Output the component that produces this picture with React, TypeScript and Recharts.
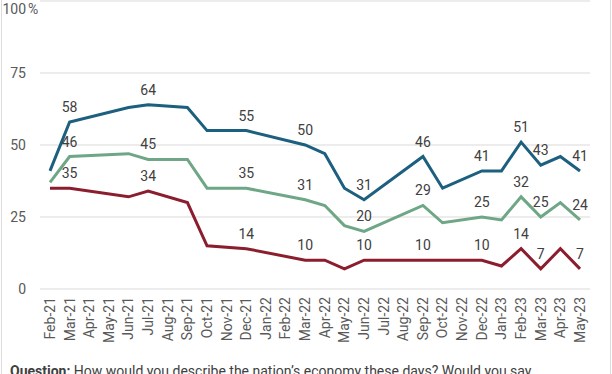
import { LineChart, Line, XAxis, YAxis, CartesianGrid, LabelList } from "recharts";

const months = [
  "Feb-21", "Mar-21", "Apr-21", "May-21", "Jun-21", "Jul-21", "Aug-21", "Sep-21", "Oct-21", "Nov-21",
  "Dec-21", "Jan-22", "Feb-22", "Mar-22", "Apr-22", "May-22", "Jun-22", "Jul-22", "Aug-22", "Sep-22",
  "Oct-22", "Nov-22", "Dec-22", "Jan-23", "Feb-23", "Mar-23", "Apr-23", "May-23",
];

// null = no survey that month
const blueValues = [41, 58, null, null, 63, 64, null, 63, 55, null, 55, null, null, 50, 47, 35, 31, null, null, 46, 35, null, 41, 41, 51, 43, 46, 41];
const greenValues = [37, 46, null, null, 47, 45, null, 45, 35, null, 35, null, null, 31, 29, 22, 20, null, null, 29, 23, null, 25, 24, 32, 25, 30, 24];
const redValues = [35, 35, null, null, 32, 34, null, 30, 15, null, 14, null, null, 10, 10, 7, 10, null, null, 10, 10, null, 10, 8, 14, 7, 14, 7];

const labeledMonths = ["Mar-21", "Jul-21", "Dec-21", "Mar-22", "Jun-22", "Sep-22", "Dec-22", "Feb-23", "Mar-23", "May-23"];
const yTicks = [0, 25, 50, 75, 100];

const data = months.map((month, i) => ({
  month,
  blue: blueValues[i],
  green: greenValues[i],
  red: redValues[i],
}));

const FONT = "Roboto, 'Noto Sans', sans-serif";

const renderLabel = (props: any) => {
  const { x, y, value, index } = props;
  if (value == null || !labeledMonths.includes(months[index])) return null;
  return (
    <text x={x} y={y - 10} textAnchor="middle" fill="#404040" fontSize={14} fontFamily={FONT}>
      {value}
    </text>
  );
};

const XTick = ({ x, y, payload }: any) => (
  <text
    x={x}
    y={y}
    transform={`rotate(-90, ${x}, ${y})`}
    textAnchor="end"
    dy="0.35em"
    fill="#595959"
    fontSize={14}
    fontFamily={FONT}
  >
    {payload.value}
  </text>
);

const YTick = ({ x, y, payload }: any) => (
  <g>
    <text x={x} y={y} dy="0.35em" textAnchor="end" fill="#595959" fontSize={14} fontFamily={FONT}>
      {payload.value}
    </text>
    {payload.value === 100 && (
      <text x={x + 2} y={y} dy="0.35em" textAnchor="start" fill="#595959" fontSize={14} fontFamily={FONT}>
        %
      </text>
    )}
  </g>
);

export default function App() {
  return (
    <div
      style={{
        position: "fixed",
        left: 0,
        top: 0,
        width: 612,
        height: 374,
        overflow: "hidden",
        background: "#fff",
        fontFamily: FONT,
      }}
    >
      <div style={{ position: "absolute", left: 1, top: 0, bottom: 0, width: 1, background: "#dcdcdc" }} />
      <div style={{ position: "absolute", left: 610, top: 0, bottom: 0, width: 1, background: "#dcdcdc" }} />
      <LineChart width={612} height={350} data={data} margin={{ top: 1, right: 22, left: 0, bottom: 5 }}>
        <CartesianGrid vertical={false} stroke="#d9d9d9" />
        <XAxis
          dataKey="month"
          interval={0}
          axisLine={false}
          tickLine={false}
          height={56}
          padding={{ left: 10, right: 10 }}
          tick={<XTick />}
          tickMargin={8}
          tickSize={0}
        />
        <YAxis
          domain={[0, 100]}
          ticks={yTicks}
          axisLine={false}
          tickLine={false}
          width={40}
          tickSize={0}
          tickMargin={14}
          tick={<YTick />}
        />
        <Line dataKey="blue" stroke="#1c5f7e" strokeWidth={3} dot={false} connectNulls isAnimationActive={false}>
          <LabelList dataKey="blue" content={renderLabel} />
        </Line>
        <Line dataKey="green" stroke="#6ea686" strokeWidth={3} dot={false} connectNulls isAnimationActive={false}>
          <LabelList dataKey="green" content={renderLabel} />
        </Line>
        <Line dataKey="red" stroke="#8b1e2e" strokeWidth={3} dot={false} connectNulls isAnimationActive={false}>
          <LabelList dataKey="red" content={renderLabel} />
        </Line>
      </LineChart>
      <div
        style={{
          position: "absolute",
          left: 10,
          top: 361,
          fontSize: 14,
          lineHeight: "20px",
          color: "#404040",
          whiteSpace: "nowrap",
        }}
      >
        <b>Question:</b> How would you describe the nation’s economy these days? Would you say…
      </div>
    </div>
  );
}
